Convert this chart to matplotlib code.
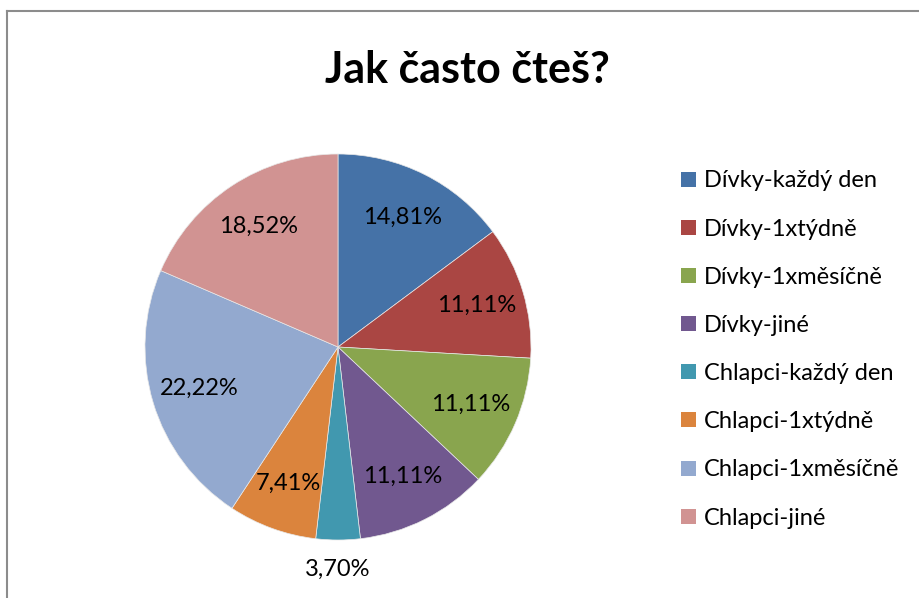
import matplotlib
matplotlib.use("Agg")
import numpy as np
import matplotlib.pyplot as plt
from matplotlib.patches import Patch
from matplotlib.lines import Line2D

plt.rcParams['font.family'] = ['Lato', 'Noto Sans', 'DejaVu Sans']

categories = ["Dívky-každý den", "Dívky-1xtýdně", "Dívky-1xměsíčně", "Dívky-jiné",
              "Chlapci-každý den", "Chlapci-1xtýdně", "Chlapci-1xměsíčně", "Chlapci-jiné"]
values = [14.81, 11.11, 11.11, 11.11, 3.70, 7.41, 22.22, 18.52]
colors = ["#4572A7", "#AA4643", "#89A54E", "#71588F",
          "#4198AF", "#DB843D", "#93A9CF", "#D19392"]
title = "Jak často čteš?"

W, H = 919, 598
fig = plt.figure(figsize=(W / 100, H / 100), dpi=100)

# pie axes: centre (338, 347) px, radius 193 px
cx, cy, r = 338, 347, 193
ax = fig.add_axes([(cx - r) / W, (H - cy - r) / H, 2 * r / W, 2 * r / H])

def fmt(p):
    return f"{p:.2f}".replace(".", ",") + "%"

wedges, texts, autotexts = ax.pie(
    values, colors=colors, startangle=90, counterclock=False,
    autopct=fmt, pctdistance=0.75,
    wedgeprops=dict(edgecolor="#e8e8e8", linewidth=0.5),
    textprops=dict(fontsize=17, color="black"))

# small slice label outside
for w, t, v in zip(wedges, autotexts, values):
    if v < 5:
        ang = np.deg2rad((w.theta1 + w.theta2) / 2)
        t.set_position((1.15 * np.cos(ang), 1.15 * np.sin(ang)))

ax.set_xlim(-1, 1)
ax.set_ylim(-1, 1)
ax.set_aspect("equal")
ax.axis("off")

fig.text(467 / W, 1 - 70 / H, title, ha="center", va="center",
         fontsize=31, fontweight="bold")

handles = [Patch(facecolor=c, edgecolor="none") for c in colors]
fig.legend(handles, categories, loc="upper left",
           bbox_to_anchor=(672 / W, 1 - 161 / H), frameon=False,
           fontsize=17, handlelength=0.6, handleheight=0.6,
           handletextpad=0.35, labelspacing=1.15, borderaxespad=0)

# chart border (top and left visible)
fig.add_artist(Line2D([7 / W, 1], [1 - 11 / H, 1 - 11 / H], color="#8c8c8c", lw=1.5))
fig.add_artist(Line2D([7 / W, 7 / W], [0, 1 - 11 / H], color="#8c8c8c", lw=1.5))

fig.savefig("out.png", dpi=100, facecolor="white")
